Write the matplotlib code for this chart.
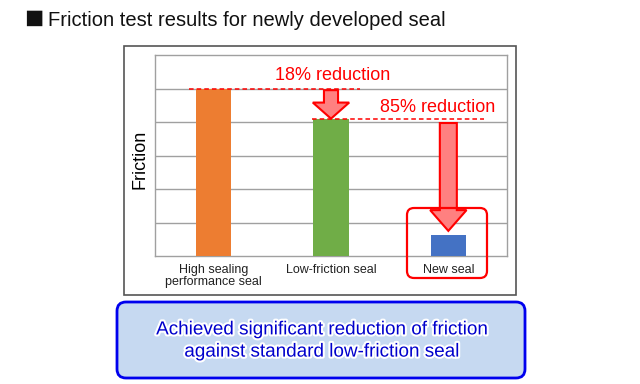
import matplotlib
matplotlib.use("Agg")
import matplotlib.pyplot as plt
from matplotlib.patches import FancyArrow, FancyBboxPatch, Rectangle
import matplotlib.patheffects as pe

plt.rcParams['font.family'] = ['Liberation Sans', 'DejaVu Sans']

# data
categories = ['High sealing\nperformance seal', 'Low-friction seal', 'New seal']
friction = [5.0, 4.1, 0.615]
bar_colors = ['#ED7D31', '#70AD47', '#4472C4']
reductions = ['18% reduction', '85% reduction']
title_mark = '\u25a0'
title = 'Friction test results for newly developed seal'
summary = 'Achieved significant reduction of friction\nagainst standard low-friction seal'

W, H = 640, 384
fig = plt.figure(figsize=(W / 100, H / 100), dpi=100)

# main chart axes (pixel box 155..507 x 55..256)
ax = fig.add_axes([155 / W, 1 - 256 / H, 352 / W, 201 / H])
x = range(len(categories))
ax.bar(x, friction, width=0.3, color=bar_colors, zorder=3)
ax.set_xlim(-0.5, 2.5)
ax.set_ylim(0, 6)
ax.set_yticks([1, 2, 3, 4, 5])
ax.set_yticklabels([])
ax.yaxis.grid(True, color='#a0a0a0', linewidth=1, zorder=0)
ax.tick_params(length=0)
ax.set_xticks(list(x))
ax.set_xticklabels(categories, fontsize=9, color='#222222', linespacing=1.0)
ax.tick_params(axis='x', pad=6)
for s in ax.spines.values():
    s.set_color('#a0a0a0')
    s.set_linewidth(1)
ax.set_ylabel('Friction', fontsize=13, va='center')
ax.yaxis.set_label_coords(-0.042, 0.48)

# dashed reference lines
ax.plot([-0.21, 1.25], [friction[0], friction[0]], color='#ff0000', ls=(0, (3, 2)), lw=1.1, zorder=4)
ax.plot([0.84, 2.30], [friction[1], friction[1]], color='#ff0000', ls=(0, (3, 2)), lw=1.1, zorder=4)

# arrows
arrow_kw = dict(length_includes_head=True, facecolor='#ff8080', edgecolor='#ff0000', lw=1.5, zorder=5)
ax.add_patch(FancyArrow(1.0, 4.95, 0, friction[1] - 4.95, width=0.12, head_width=0.31,
                        head_length=0.48, **arrow_kw))
ax.add_patch(FancyArrow(2.0, 3.97, 0, 0.75 - 3.97, width=0.145, head_width=0.31,
                        head_length=0.62, **arrow_kw))

ax.text(1.01, 5.40, reductions[0], color='#ff0000', fontsize=13, ha='center', va='center')
ax.text(1.91, 4.42, reductions[1], color='#ff0000', fontsize=13, ha='center', va='center')

# overlay axes in pixel coordinates for decorations
ov = fig.add_axes([0, 0, 1, 1])
ov.set_xlim(0, W)
ov.set_ylim(H, 0)
ov.axis('off')

ov.add_patch(Rectangle((124, 46), 392, 249, fill=False, edgecolor='#555555', lw=1.2))
ov.add_patch(FancyBboxPatch((407, 208), 80, 70, boxstyle='round,pad=0,rounding_size=7',
                            fill=False, edgecolor='#ff0000', lw=1.6))
ov.add_patch(FancyBboxPatch((117, 302), 408, 76, boxstyle='round,pad=0,rounding_size=9',
                            facecolor='#c6d9f1', edgecolor='#0000ee', lw=2))

ov.text(24, 27.5, title_mark, fontsize=23, ha='left', va='baseline', color='#111111')
ov.text(48, 26, title, fontsize=14.5, ha='left', va='baseline', color='#111111')
ov.text(321, 341, summary, fontsize=13.6, ha='center', va='center', color='#0000cc',
        linespacing=1.4, path_effects=[pe.withStroke(linewidth=3, foreground='white')])

fig.savefig('out.png', dpi=100)
